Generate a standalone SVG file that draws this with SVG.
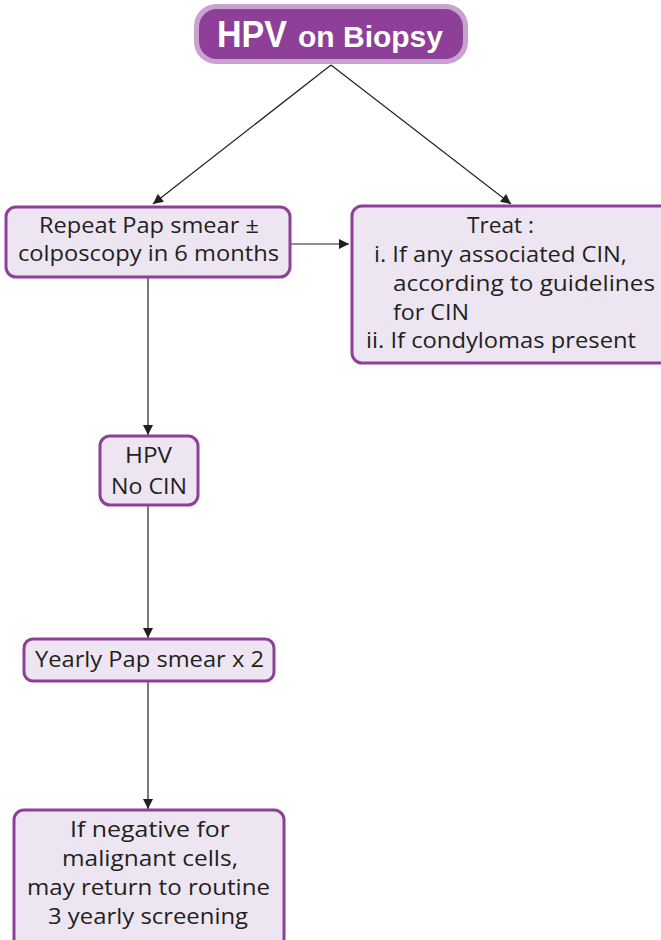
<svg xmlns="http://www.w3.org/2000/svg" width="661" height="940" viewBox="0 0 661 940">
<style>
.box{fill:#ede6f2;stroke:#8e3f97;stroke-width:3}
.t{font-family:"Open Sans","Liberation Sans",Arial,sans-serif;font-size:21px;fill:#231f20}
.c{text-anchor:middle}
.ln{stroke:#231f20;stroke-width:1.2;fill:none;marker-end:url(#ah)}
</style>
<defs>
<marker id="ah" viewBox="0 0 10 10" refX="10" refY="5" markerWidth="11" markerHeight="10" markerUnits="userSpaceOnUse" orient="auto">
<path d="M0,0 L10,5 L0,10 z" fill="#231f20"/>
</marker>
</defs>
<rect width="661" height="940" fill="#ffffff"/>
<g id="connectors">
<line class="ln" x1="331" y1="65" x2="153" y2="204"/>
<line class="ln" x1="331" y1="65" x2="511" y2="204"/>
<line class="ln" x1="290" y1="244" x2="349" y2="244"/>
<line class="ln" x1="148" y1="278" x2="148" y2="435"/>
<line class="ln" x1="148" y1="506" x2="148" y2="638"/>
<line class="ln" x1="148" y1="682" x2="148" y2="809"/>
</g>
<g id="title">
<rect x="194" y="4" width="274" height="60" rx="22" fill="#c9a3cf"/>
<rect x="199" y="9" width="264" height="50" rx="18" fill="#8e3f97"/>
<text y="47" font-family="Liberation Sans,Arial,sans-serif" font-weight="bold" fill="#ffffff"><tspan x="217" font-size="37" textLength="70" lengthAdjust="spacingAndGlyphs">HPV</tspan><tspan x="298" font-size="30" textLength="145" lengthAdjust="spacingAndGlyphs">on Biopsy</tspan></text>
</g>
<g id="repeat">
<rect class="box" x="6" y="207" width="284" height="70" rx="10"/>
<text class="t" x="39" y="233" textLength="220" lengthAdjust="spacingAndGlyphs">Repeat Pap smear ±</text>
<text class="t" x="18" y="261" textLength="261" lengthAdjust="spacingAndGlyphs">colposcopy in 6 months</text>
</g>
<g id="treat">
<rect class="box" x="352" y="206" width="320" height="157" rx="10"/>
<text class="t" x="467" y="233" textLength="67" lengthAdjust="spacingAndGlyphs">Treat :</text>
<text class="t" x="374" y="262" textLength="253" lengthAdjust="spacingAndGlyphs">i. If any associated CIN,</text>
<text class="t" x="393" y="291" textLength="262" lengthAdjust="spacingAndGlyphs">according to guidelines</text>
<text class="t" x="393" y="320" textLength="76" lengthAdjust="spacingAndGlyphs">for CIN</text>
<text class="t" x="366" y="348" textLength="270" lengthAdjust="spacingAndGlyphs">ii. If condylomas present</text>
</g>
<g id="hpv">
<rect class="box" x="100" y="436" width="98" height="69" rx="10"/>
<text class="t" x="125" y="463" textLength="47" lengthAdjust="spacingAndGlyphs">HPV</text>
<text class="t" x="111" y="494" textLength="76" lengthAdjust="spacingAndGlyphs">No CIN</text>
</g>
<g id="yearly">
<rect class="box" x="24" y="639" width="250" height="42" rx="9"/>
<text class="t" x="35" y="667" textLength="229" lengthAdjust="spacingAndGlyphs">Yearly Pap smear x 2</text>
</g>
<g id="final">
<rect class="box" x="14" y="810" width="270" height="140" rx="10"/>
<text class="t" x="70" y="837" textLength="160" lengthAdjust="spacingAndGlyphs">If negative for</text>
<text class="t" x="62" y="866" textLength="176" lengthAdjust="spacingAndGlyphs">malignant cells,</text>
<text class="t" x="27" y="895" textLength="243" lengthAdjust="spacingAndGlyphs">may return to routine</text>
<text class="t" x="48" y="924" textLength="200" lengthAdjust="spacingAndGlyphs">3 yearly screening</text>
</g>
</svg>
